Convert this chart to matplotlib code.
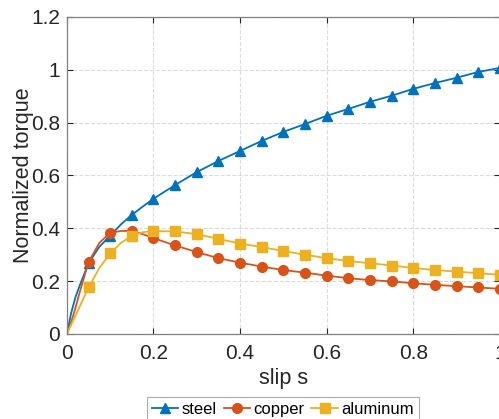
import matplotlib
matplotlib.use('Agg')
import matplotlib.pyplot as plt
from matplotlib.ticker import FuncFormatter

# slip values (markers at multiples of 0.05, extra read points for the curve shape)
slip = [0, 0.01, 0.02, 0.03, 0.05, 0.075, 0.1, 0.125, 0.15, 0.175, 0.2,
        0.25, 0.3, 0.35, 0.4, 0.45, 0.5, 0.55, 0.6, 0.65, 0.7, 0.75,
        0.8, 0.85, 0.9, 0.95, 1.0]

steel = [0, 0.08, 0.14, 0.185, 0.268, 0.33, 0.372, 0.415, 0.451, 0.482, 0.512,
         0.564, 0.613, 0.655, 0.693, 0.731, 0.765, 0.795, 0.826, 0.852, 0.879,
         0.902, 0.928, 0.95, 0.97, 0.992, 1.007]

copper = [0, 0.045, 0.1, 0.16, 0.272, 0.345, 0.383, 0.39, 0.39, 0.378, 0.363,
          0.335, 0.31, 0.287, 0.27, 0.255, 0.242, 0.232, 0.221, 0.211, 0.204,
          0.199, 0.192, 0.186, 0.181, 0.176, 0.171]

aluminum = [0, 0.035, 0.07, 0.105, 0.176, 0.25, 0.305, 0.345, 0.371, 0.385, 0.39,
            0.388, 0.378, 0.36, 0.342, 0.329, 0.314, 0.3, 0.287, 0.276, 0.268,
            0.259, 0.25, 0.242, 0.236, 0.23, 0.224]

labels = ['steel', 'copper', 'aluminum']
x_ticks = [0, 0.2, 0.4, 0.6, 0.8, 1.0]
y_ticks = [0, 0.2, 0.4, 0.6, 0.8, 1.0, 1.2]

plt.rcParams['font.family'] = ['Liberation Sans', 'DejaVu Sans']

# marker only where slip is a multiple of 0.05 (and not at 0)
marks = [i for i, s in enumerate(slip) if s > 0 and abs(s / 0.05 - round(s / 0.05)) < 1e-6]

fig = plt.figure(figsize=(4.99, 4.19), dpi=100)
ax = fig.add_axes([0.134, 0.2029, 0.868, 0.7566])

ax.plot(slip, steel, color='#0072BD', marker='^', markersize=7.5, lw=1.3,
        markevery=marks, label=labels[0])
ax.plot(slip, copper, color='#D95319', marker='o', markersize=7, lw=1.3,
        markevery=marks, label=labels[1])
ax.plot(slip, aluminum, color='#EDB120', marker='s', markersize=6.5, lw=1.3,
        markevery=marks, label=labels[2])

ax.set_xlim(0, 1)
ax.set_ylim(0, 1.2)
ax.set_xticks(x_ticks)
ax.set_yticks(y_ticks)
fmt = FuncFormatter(lambda v, p: ('%g' % round(v, 2)))
ax.xaxis.set_major_formatter(fmt)
ax.yaxis.set_major_formatter(fmt)
ax.tick_params(direction='in', length=4, width=0.8, labelsize=15,
               colors='#262626', top=True, right=True, pad=5)
ax.tick_params(axis='x', pad=7)
for sp in ax.spines.values():
    sp.set_color('#808080')
    sp.set_linewidth(0.9)
ax.grid(True, ls='--', color='#DCDCDC', lw=0.8)
ax.set_axisbelow(True)

ax.set_xlabel('slip s', fontsize=15.5, color='#262626', labelpad=4)
ax.set_ylabel('Normalized torque', fontsize=15.5, color='#262626', labelpad=-2)

leg = fig.legend(loc='upper center', bbox_to_anchor=(0.567, 0.0525), ncol=3,
                 fontsize=12, frameon=True, fancybox=False, edgecolor='#999999',
                 handlelength=1.6, handletextpad=0.2, columnspacing=0.4,
                 borderpad=0.3, borderaxespad=0)
leg.get_frame().set_linewidth(0.8)

fig.savefig('out.png', dpi=100)
